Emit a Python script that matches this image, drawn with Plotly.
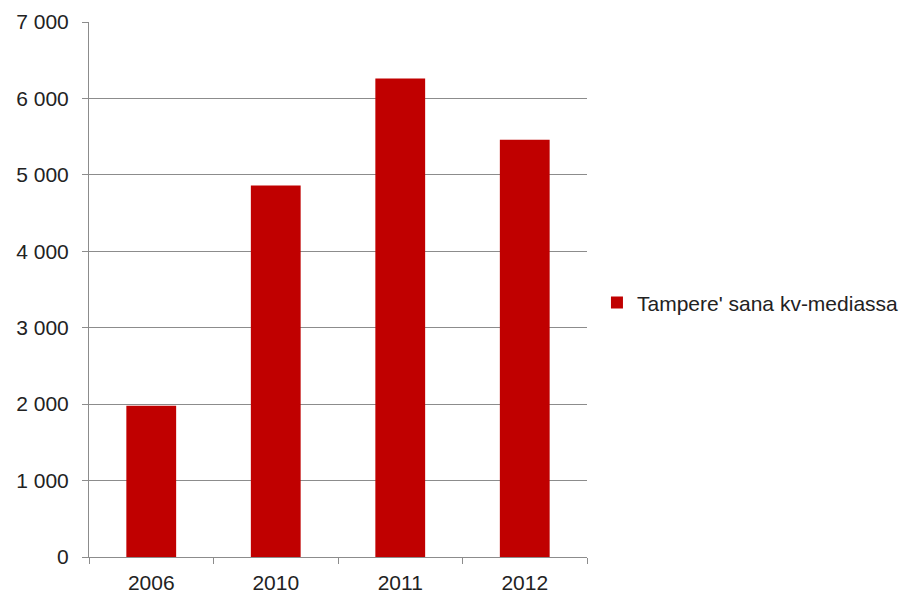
import plotly.graph_objects as go

categories = ["2006", "2010", "2011", "2012"]
values = [1980, 4860, 6260, 5460]
series_name = "Tampere' sana kv-mediassa"
y_tickvals = [0, 1000, 2000, 3000, 4000, 5000, 6000, 7000]
y_ticktext = ["0", "1 000", "2 000", "3 000", "4 000", "5 000", "6 000", "7 000"]

fig = go.Figure()
fig.add_trace(go.Bar(x=categories, y=values, name=series_name,
                     marker=dict(color="#C00000", line=dict(width=0))))

# page body has an 8px default margin, so the figure is offset by 8px
fig.update_layout(
    width=906, height=585,
    margin=dict(l=81, r=327, t=14, b=36, autoexpand=False),
    paper_bgcolor="white", plot_bgcolor="white",
    font=dict(family="Liberation Sans, Arial, sans-serif", size=21, color="#222222"),
    bargap=0.6,
    showlegend=True,
    legend=dict(x=1.02, y=0.475, xanchor="left", yanchor="middle",
                font=dict(size=21, color="#222222"), bgcolor="rgba(0,0,0,0)"),
    xaxis=dict(type="category", showline=True, linecolor="#8c8c8c", linewidth=1,
               ticks="outside", tickson="boundaries", ticklen=6, tickcolor="#8c8c8c",
               showgrid=False, tickfont=dict(size=21), automargin=False,
               ticklabelstandoff=7),
    yaxis=dict(range=[0, 7000], tickvals=y_tickvals, ticktext=y_ticktext,
               showline=True, linecolor="#8c8c8c", linewidth=1,
               ticks="outside", ticklen=6, tickcolor="#8c8c8c",
               showgrid=True, gridcolor="#8c8c8c", gridwidth=1,
               zeroline=False, tickfont=dict(size=21), automargin=False,
               ticklabelstandoff=9),
)

fig.write_html("out.html")
